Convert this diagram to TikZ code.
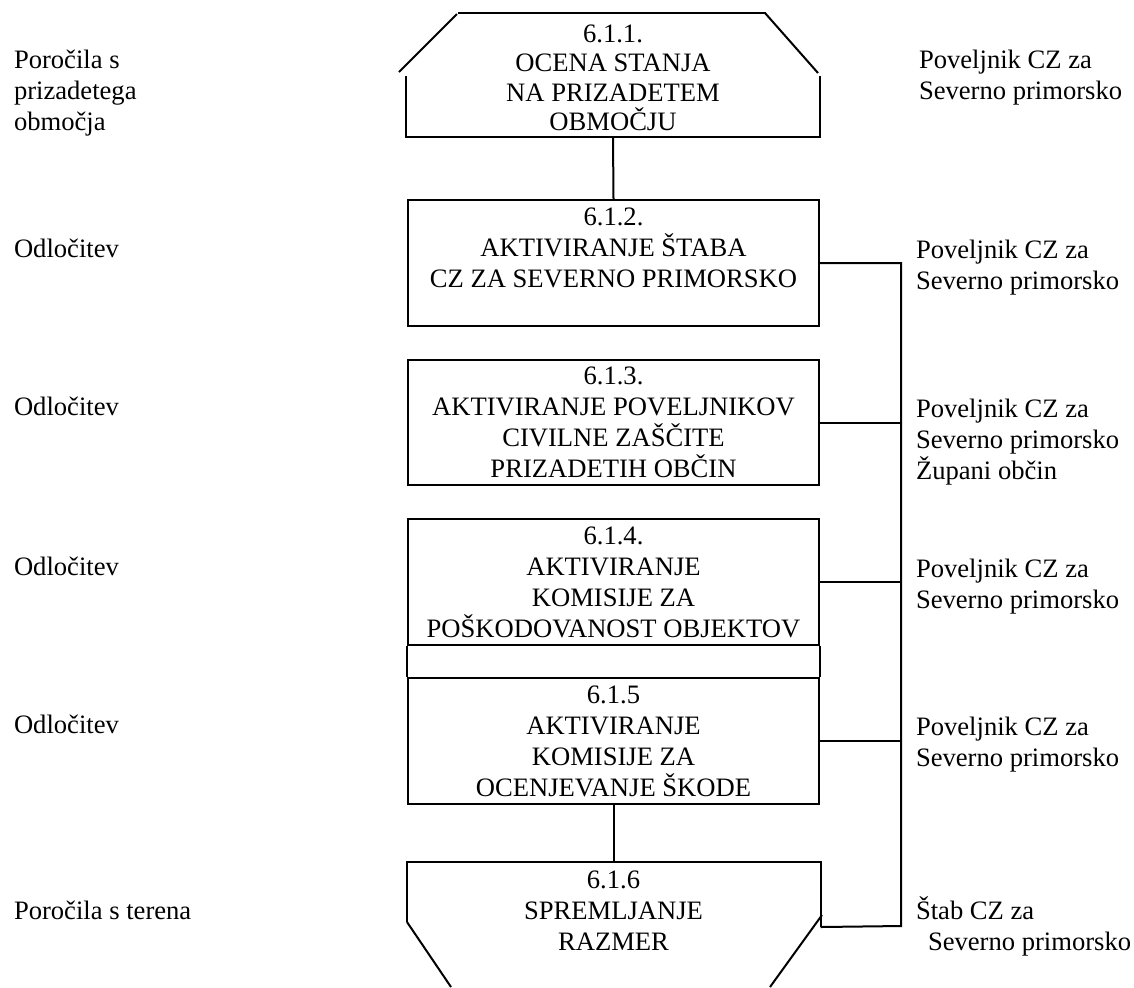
\documentclass[tikz,border=0pt]{standalone}
\usepackage{fontspec}
\setmainfont{Liberation Serif}
\newcommand{\bfs}{\fontsize{13.3pt}{15.5pt}\selectfont}
\newcommand{\tfs}{\fontsize{13.3pt}{14.75pt}\selectfont}
\begin{document}
\begin{tikzpicture}[x=0.5pt,y=-0.5pt, line width=1pt,
  boxnode/.style={draw, rectangle, inner sep=0, minimum width=205.5pt},
  shapenode/.style={rectangle, inner sep=0, minimum width=206pt},
  btxt/.style={font=\bfs, align=center, inner sep=0, anchor=base},
  ltxt/.style={font=\bfs, align=left, inner sep=0, anchor=base west}]
\useasboundingbox (0,0) rectangle (1134,987);

% shapes
\node[shapenode, minimum height=61.5pt] (t1) at (613,74.5) {};
\node[boxnode, minimum height=63pt] (b2) at (613.5,263) {};
\node[boxnode, minimum height=62.5pt] (b3) at (613.5,422.5) {};
\node[boxnode, minimum height=63pt] (b4) at (613.5,582) {};
\node[boxnode, minimum height=63pt] (b5) at (613.5,741) {};
\node[shapenode, minimum height=31.5pt] (t6) at (613.5,894.5) {};

% top shape outline
\draw (458,13) -- (766,13);
\draw (399,72) -- (457,14);
\draw (765,13) -- (818,73);
\draw (t1.west |- 0,76) -- (t1.south west) -- (t1.south east) -- (t1.east |- 0,76);

% strip between 6.1.4 and 6.1.5
\draw (b4.south west) -- (b5.north west);
\draw (b4.south east) -- (b5.north east);

% bottom shape outline
\draw (t6.west |- 0,922) -- (t6.north west) -- (t6.north east) -- (t6.south east);
\draw (407,922) -- (451,987);
\draw (822,915) -- (770,987);

% box texts (base anchor = baseline of last line)
\node[btxt, font=\tfs] (l1) at (613,130.5) {6.1.1.\\OCENA STANJA\\NA PRIZADETEM\\OBMOČJU};
\node[btxt] (l2) at (613.5,287) {6.1.2.\\AKTIVIRANJE ŠTABA\\CZ ZA SEVERNO PRIMORSKO};
\node[btxt] (l3) at (613.5,477) {6.1.3.\\AKTIVIRANJE POVELJNIKOV\\CIVILNE ZAŠČITE\\PRIZADETIH OBČIN};
\node[btxt] (l4) at (613.5,637) {6.1.4.\\AKTIVIRANJE\\KOMISIJE ZA\\POŠKODOVANOST OBJEKTOV};
\node[btxt] (l5) at (613.5,796) {6.1.5\\AKTIVIRANJE\\KOMISIJE ZA\\OCENJEVANJE ŠKODE};
\node[btxt] (l6) at (613.5,950) {6.1.6\\SPREMLJANJE\\RAZMER};

% left texts
\node[ltxt] (p1) at (13,130) {Poročila s\\prizadetega\\območja};
\node[ltxt] (o2) at (13,257) {Odločitev};
\node[ltxt] (o3) at (13,415) {Odločitev};
\node[ltxt] (o4) at (13,575) {Odločitev};
\node[ltxt] (o5) at (13,733) {Odločitev};
\node[ltxt] (p6) at (13,919) {Poročila s terena};

% right texts
\node[ltxt] (r1) at (918,99) {Poveljnik CZ za\\Severno primorsko};
\node[ltxt] (r2) at (915,289) {Poveljnik CZ za\\Severno primorsko};
\node[ltxt] (r3) at (915,479) {Poveljnik CZ za\\Severno primorsko\\Župani občin};
\node[ltxt] (r4) at (915,608) {Poveljnik CZ za\\Severno primorsko};
\node[ltxt] (r5) at (915,766) {Poveljnik CZ za\\Severno primorsko};
\node[ltxt] (r6) at (915,950) {Štab CZ za\\\hspace*{6pt}Severno primorsko};

% connectors
\coordinate (busA) at (901,263);
\coordinate (busB) at (901,926);
\draw (t1.south) -- (b2.north);
\draw (b5.south) -- (t6.north);
\draw (b2.east) -- (busA) -- (busB) -- (t6.south east);
\draw (b3.east) -- (b3.east -| busA);
\draw (b4.east) -- (b4.east -| busA);
\draw (b5.east) -- (b5.east -| busA);
\end{tikzpicture}
\end{document}
